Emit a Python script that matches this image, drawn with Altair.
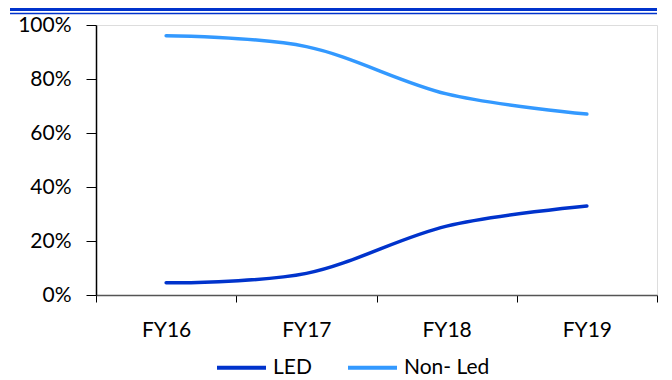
import altair as alt
import pandas as pd

categories = ["FY16", "FY17", "FY18", "FY19"]
led = [4.5, 8, 25.5, 33]
non_led = [96, 92, 74.5, 67]
series_names = ["LED", "Non- Led"]
series_colors = ["#0033CC", "#3399FF"]
y_ticks = [0, 20, 40, 60, 80, 100]

rows = []
for i, c in enumerate(categories):
    rows.append({"idx": i, "year": c, "series": series_names[0], "value": led[i]})
    rows.append({"idx": i, "year": c, "series": series_names[1], "value": non_led[i]})
df = pd.DataFrame(rows)

x_values = [v / 2 for v in range(-1, 2 * len(categories))]
label_expr = "datum.value % 1 === 0 ? " + str(categories) + "[datum.value] : ''"

FONT = "Lato"

lines = alt.Chart(df).mark_line(
    strokeWidth=3.5, interpolate="cardinal", strokeCap="round"
).encode(
    x=alt.X(
        "idx:Q",
        scale=alt.Scale(domain=[-0.5, len(categories) - 0.5], nice=False, zero=False),
        axis=alt.Axis(
            values=x_values,
            labelExpr=label_expr,
            title=None,
            grid=False,
            tickSize=7,
            tickColor="#000000",
            tickOpacity={"condition": {"test": "datum.value % 1 === 0", "value": 0}, "value": 1},
            domainColor="#555555",
            domainWidth=1.5,
            labelFont=FONT,
            labelFontSize=21,
            labelColor="#000000",
            labelPadding=17,
            labelOverlap=False,
            labelFlush=False,
        ),
    ),
    y=alt.Y(
        "value:Q",
        scale=alt.Scale(domain=[0, 100], nice=False),
        axis=alt.Axis(
            values=y_ticks,
            labelExpr="datum.value + '%'",
            title=None,
            grid=False,
            tickSize=10,
            tickColor="#000000",
            domainColor="#000000",
            domainWidth=1.5,
            labelFont=FONT,
            labelFontSize=21,
            labelColor="#000000",
            labelPadding=15,
            labelFlush=False,
        ),
    ),
    color=alt.Color(
        "series:N",
        scale=alt.Scale(domain=series_names, range=series_colors),
        legend=alt.Legend(
            title=None,
            orient="none",
            direction="horizontal",
            legendX=119,
            legendY=316,
            symbolType="stroke",
            symbolSize=2401,
            symbolStrokeWidth=4,
            labelFont=FONT,
            labelFontSize=21,
            labelColor="#000000",
            labelOffset=5,
            columnPadding=28,
        ),
    ),
    detail="series:N",
)

header = alt.Chart(pd.DataFrame({"a": [0]}))
thick = header.mark_rule(color="#0033CC", strokeWidth=3).encode(
    x=alt.value(-86), x2=alt.value(561), y=alt.value(-15.5)
)
thin = header.mark_rule(color="#0033CC", strokeWidth=1.5).encode(
    x=alt.value(-86), x2=alt.value(561), y=alt.value(-11.5)
)

chart = alt.layer(lines, thick, thin).properties(
    width=561,
    height=270,
    autosize=alt.AutoSizeParams(type="none"),
    padding={"left": 88, "top": 17, "right": 7, "bottom": 84},
).configure_view(stroke=None).configure(background="white")

chart.save("out.html", embed_options={"renderer": "svg", "actions": False})
